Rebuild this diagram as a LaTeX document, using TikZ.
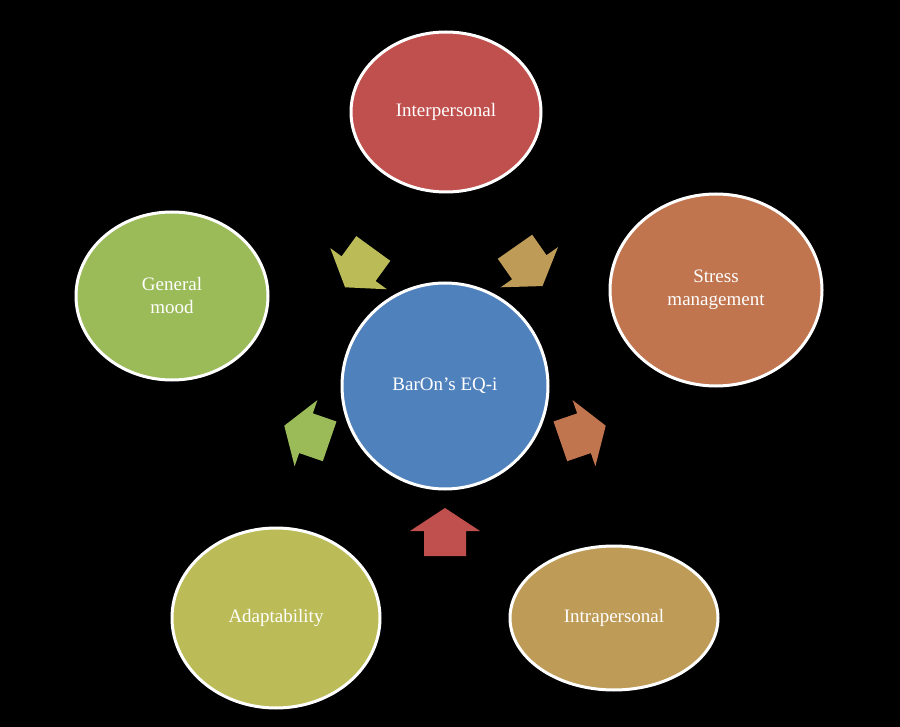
\documentclass[tikz,border=0pt]{standalone}
\usepackage{fontspec}
\setmainfont{Liberation Serif}
\usetikzlibrary{shapes.geometric,calc}
\definecolor{cblue}{HTML}{4F81BD}
\definecolor{cred}{HTML}{C0504D}
\definecolor{corange}{HTML}{C0754F}
\definecolor{cgold}{HTML}{BE9B57}
\definecolor{colive}{HTML}{BBBB57}
\definecolor{cgreen}{HTML}{9BBB59}
\begin{document}
\begin{tikzpicture}[x=1pt,y=-1pt,
  bub/.style={ellipse,draw=white,line width=3pt,text=white,align=center,
    font=\fontsize{19}{23}\selectfont,inner sep=0pt}]
\fill[black] (0,0) rectangle (900,727);
\useasboundingbox (0,0) rectangle (900,727);
\node[bub,fill=cblue,minimum width=206pt,minimum height=206pt] (c) at (445,386) {BarOn's EQ-i};
\node[bub,fill=cred,minimum width=190pt,minimum height=160pt] (ip) at (446,112) {Interpersonal};
\node[bub,fill=corange,minimum width=212pt,minimum height=192pt] (sm) at (716,290) {Stress\\management};
\node[bub,fill=cgold,minimum width=208pt,minimum height=144pt] (ia) at (614,618) {Intrapersonal};
\node[bub,fill=colive,minimum width=208pt,minimum height=180pt] (ad) at (276,618) {Adaptability};
\node[bub,fill=cgreen,minimum width=192pt,minimum height=168pt] (gm) at (172,296) {General\\mood};
\foreach \ang/\col in {90/cred,19/corange,-55/cgold,-126/colive,161/cgreen}{
  \begin{scope}[shift={($(c)+(\ang:146)$)}]
  \fill[\col,rotate=\ang]
    (-24,-21) -- (1,-21) -- (1,-35) -- (24,0) -- (1,35) -- (1,21) -- (-24,21) -- cycle;
  \end{scope}}
\end{tikzpicture}
\end{document}
